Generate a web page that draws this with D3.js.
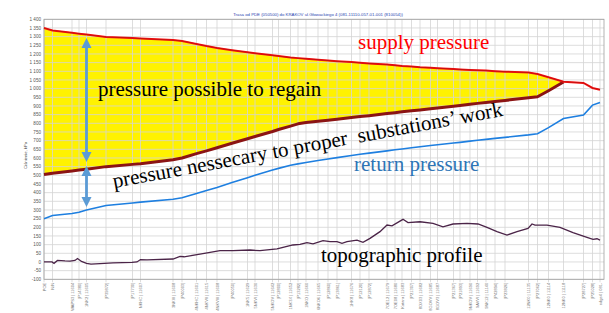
<!DOCTYPE html>
<html><head><meta charset="utf-8">
<script src="https://cdn.jsdelivr.net/npm/d3@7"></script>
<style>html,body{margin:0;padding:0;background:#fff;} svg{display:block}</style>
</head><body>
<svg id="c" width="609" height="313"></svg>
<script>
// ---------- DATA ----------
const categories = ["POE","N/N","WAPS3 | 11604","[P14380]","1NK2 | 11605","[P39872]","[P17730]","NKHC | 11607",
 "3NKIII | 11608","[P40003]","4NKHC | 11601","4NKVII | 11615","4NKVIII | 11608","[P40050]","1NK5 | 11629","5NKVI | 11630",
 "5NKOV | 11642","[P12800]","1NK3X | 11652","[P13282]","1NKO | 11660","6NKO6 | 11665","[P12860]","[P13861]",
 "1HK8 | 11676","[P12120]","[P12872]","7OE12 | 11679","7OE08 | 11680","Katara | 11683","[P21307]","8OX03 | 11682",
 "8GOVV | 11685","8GOV3 | 11687","[P21367]","[P21893]","9NKOV | 11690","9AVVI | 11692","9NK12 | 11140","[P42894]",
 "[P23826]","12NK0 | 11135","[P27062]","12NK0 | 11114","12NK0 | 11118","[P28727]","[P25028]","odge4 | 081-"];
const catDist = [0,0.17,0.56,0.70,0.85,1.24,1.77,1.93,2.58,2.76,3.05,3.25,3.46,3.76,4.07,4.22,4.57,4.69,4.93,5.08,5.24,5.48,
 5.68,5.86,6.15,6.32,6.50,6.86,7.02,7.16,7.35,7.52,7.73,7.87,8.19,8.32,8.52,8.67,8.84,9.02,9.22,9.69,9.87,10.09,10.39,10.79,10.97,11.12];
const supply = [1350,1336,1322,1317,1312,1298,1292,1289,1280,1275,1258,1246,1235,1222,1210,1204,1192,1188,1179,1176,1172,1167,
 1162,1158,1153,1149,1145,1139,1135,1131,1127,1123,1120,1118,1113,1111,1108,1106,1104,1101,1098,1093,1084,1066,1040,1033,1004,994];
const required = [505,512,525,530,535,550,563,567,590,600,625,641,659,685,711,724,753,764,784,797,804,812,818,824,833,839,844,
 856,861,866,872,877,884,888,899,903,910,915,920,926,932,947,953,988,1038,null,null,null];
const returnP = [250,268,280,287,300,326,340,345,362,370,395,412,430,458,486,500,530,540,558,566,574,585,594,602,614,621,628,
 641,647,652,659,665,672,676,686,690,697,702,707,713,719,733,740,775,828,848,905,920];
const topoDist = [0,0.16,0.20,0.27,0.42,0.52,0.62,0.67,0.75,0.85,0.94,1.12,1.38,1.76,1.86,1.93,2.06,2.58,2.72,2.80,3.12,3.52,
 3.78,4.12,4.32,4.66,4.78,4.98,5.12,5.26,5.38,5.58,5.72,5.86,5.96,6.06,6.26,6.38,6.52,6.72,6.86,6.96,7.18,7.28,7.52,7.78,7.98,
 8.18,8.46,8.68,8.86,9.06,9.26,9.46,9.68,9.76,9.82,10.06,10.32,10.58,10.86,10.98,11.06,11.12];
const topoElev = [0,0,-8,9,6,5,9,20,3,-8,-12,-9,-5,-2,0,14,12,17,32,30,45,65,65,69,65,75,84,98,101,111,105,123,117,117,107,
 117,126,113,136,175,213,208,246,227,232,223,203,219,223,219,200,175,155,175,194,219,213,213,200,169,142,130,134,126];
const yTicks = d3.range(-100, 1401, 50);
const title = "Trasa od PDE (050500)  do KRAKOV ul.Głowackiego 4 (081-11110-057-01-001 (810054))";
const yLabel = "Ciśnienie, kPa";
const labels = {supply:"supply pressure", regain:"pressure possible to regain",
  needed:"pressure nessecary to proper  substations\u2019 work", ret:"return pressure", topo:"topographic profile"};

// ---------- DRAW ----------
const svg = d3.select("#c");
const L = 44, R = 604, T = 19.3, B = 279.3;
const x = d3.scaleLinear().domain([0, d3.max(catDist)]).range([L, 600]);
const y = d3.scaleLinear().domain([-100, 1400]).range([B, T]);

// title
svg.append("text").attr("x", 318).attr("y", 15.5).attr("text-anchor","middle")
  .attr("font-family","Liberation Sans, Arial, sans-serif").attr("font-size", 4.3)
  .attr("fill","#2a3fb0").text(title);

// yellow area
const idx = d3.range(categories.length).filter(i => required[i] != null);
const area = d3.area().x(i => x(catDist[i])).y0(i => y(required[i])).y1(i => y(supply[i]));
svg.append("path").attr("d", area(idx)).attr("fill","#fff200");

// grid
const grid = svg.append("g").attr("stroke","#d4d4d4").attr("stroke-width",0.8);
yTicks.forEach(t => grid.append("line").attr("x1",L).attr("x2",R).attr("y1",y(t)).attr("y2",y(t)));
catDist.forEach(d => grid.append("line").attr("x1",x(d)).attr("x2",x(d)).attr("y1",T).attr("y2",B+3));
svg.append("rect").attr("x",L).attr("y",T).attr("width",R-L).attr("height",B-T)
  .attr("fill","none").attr("stroke","#a0a0a0").attr("stroke-width",0.8);

// y axis labels
const fmt = v => Math.abs(v) >= 1000 ? d3.format(",")(v).replace(",", " ") : String(v);
svg.append("g").selectAll("text").data(yTicks).join("text")
  .attr("x", 41).attr("y", t => y(t) + 1.6).attr("text-anchor","end")
  .attr("font-family","Liberation Sans, Arial, sans-serif").attr("font-size",4.6).attr("fill","#555")
  .text(fmt);
svg.append("text").attr("transform",`translate(27,${(T+B)/2+6}) rotate(-90)`).attr("text-anchor","middle")
  .attr("font-family","Liberation Sans, Arial, sans-serif").attr("font-size",4.2).attr("fill","#444").text(yLabel);

// x labels
svg.append("g").selectAll("text").data(categories).join("text")
  .attr("transform",(c,i)=>`translate(${x(catDist[i])+1.5},${B+3.5}) rotate(-90)`)
  .attr("text-anchor","end")
  .attr("font-family","Liberation Sans, Arial, sans-serif").attr("font-size",4.0).attr("fill","#777")
  .text(c => c);

// lines
const lineIdx = d3.line().defined(d => d.v != null).x(d => x(d.d)).y(d => y(d.v));
const ser = arr => arr.map((v,i)=>({d:catDist[i], v}));
svg.append("path").attr("d", lineIdx(ser(returnP))).attr("fill","none").attr("stroke","#1e7fe0").attr("stroke-width",1.6);
svg.append("path").attr("d", lineIdx(ser(required))).attr("fill","none").attr("stroke","#8b1414").attr("stroke-width",3).attr("stroke-linejoin","round");
svg.append("path").attr("d", lineIdx(ser(supply))).attr("fill","none").attr("stroke","#ff1010").attr("stroke-width",2);
svg.append("path").attr("d", lineIdx(ser(supply))).attr("fill","none").attr("stroke","#8a1010").attr("stroke-width",0.5);
const topo = topoDist.map((d,i)=>({d, v: topoElev[i]}));
svg.append("path").attr("d", lineIdx(topo)).attr("fill","none").attr("stroke","#4b2448").attr("stroke-width",1.3);

// arrows
const ax = x(catDist[4]);
function dblArrow(y1, y2){
  const g = svg.append("g").attr("fill","#5b9bd5");
  const h = 10, w = 5;
  g.append("rect").attr("x",ax-1.4).attr("y",y1+h-1).attr("width",2.8).attr("height",y2-y1-2*h+2);
  g.append("path").attr("d",`M${ax},${y1} L${ax-w},${y1+h} L${ax+w},${y1+h} Z`);
  g.append("path").attr("d",`M${ax},${y2} L${ax-w},${y2-h} L${ax+w},${y2-h} Z`);
}
dblArrow(y(1292), y(577));
dblArrow(y(554), y(317));

// annotations
const serif = "Liberation Serif, Times New Roman, serif";
svg.append("text").attr("x",358).attr("y",49).attr("font-family",serif).attr("font-size",21).attr("fill","#ff0000").text(labels.supply);
svg.append("text").attr("x",98).attr("y",96).attr("font-family",serif).attr("font-size",21).attr("fill","#000").text(labels.regain);
svg.append("text").attr("transform","translate(114,188) rotate(-10.5)").attr("font-family",serif).attr("font-size",21)
  .attr("fill","#000").style("white-space","pre").text(labels.needed);
svg.append("text").attr("x",354).attr("y",171).attr("font-family",serif).attr("font-size",21).attr("fill","#2e75b6").text(labels.ret);
svg.append("text").attr("x",321).attr("y",262).attr("font-family",serif).attr("font-size",21).attr("fill","#000").text(labels.topo);
</script>
</body></html>
